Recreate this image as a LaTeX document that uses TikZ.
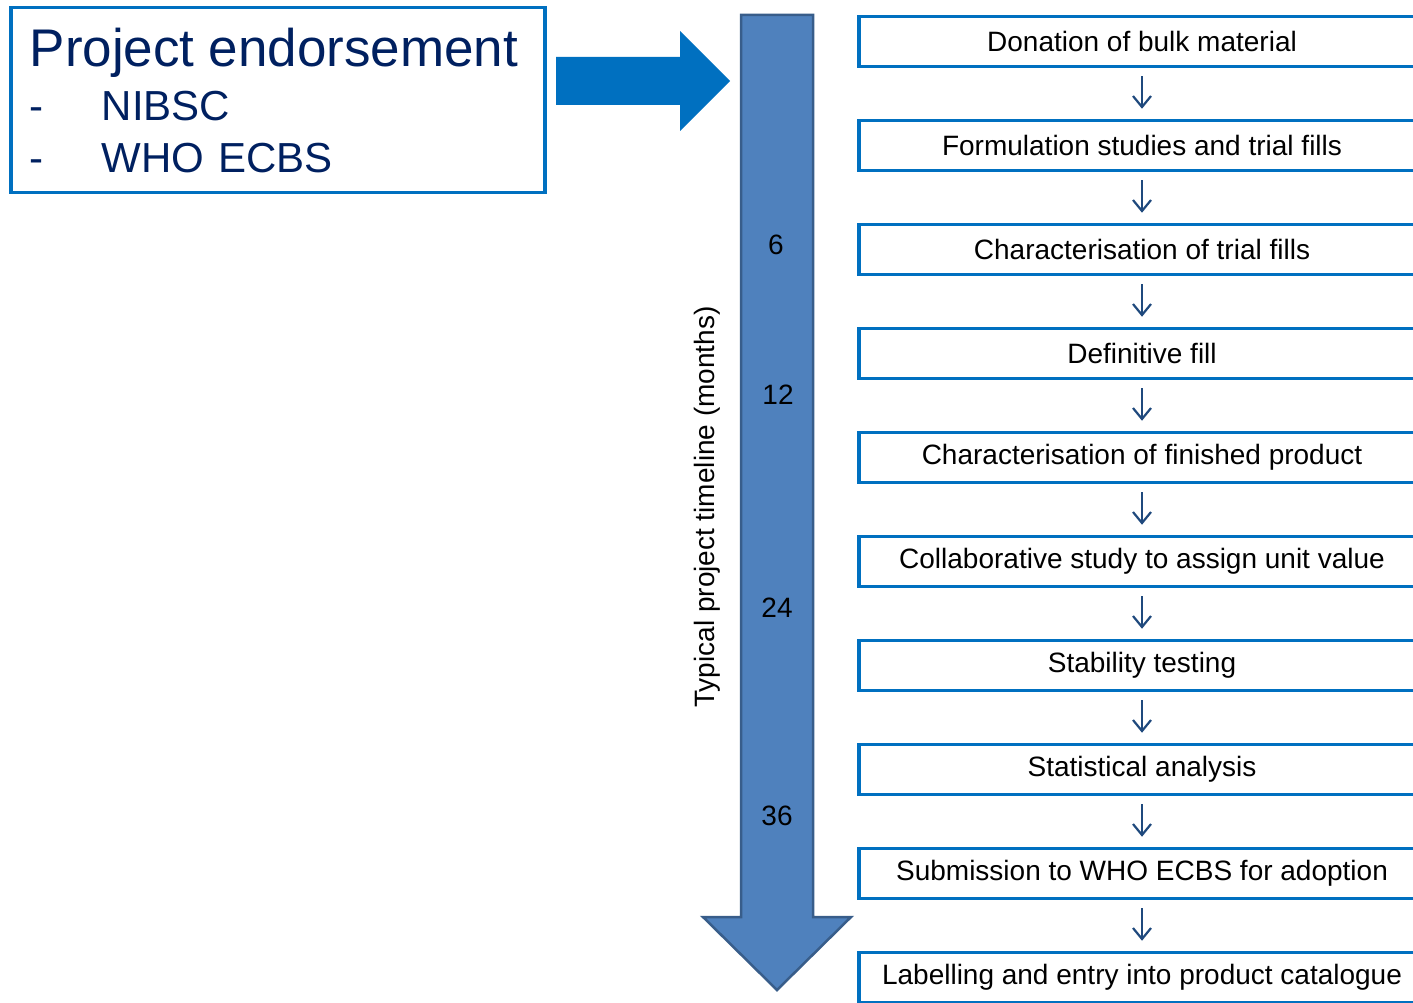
\documentclass[tikz,border=0pt]{standalone}
\usepackage{fontspec}
\setmainfont{Liberation Sans}
\usetikzlibrary{positioning,arrows.meta}

\definecolor{boxblue}{HTML}{0070C0}
\definecolor{timefill}{HTML}{4F81BD}
\definecolor{timeedge}{HTML}{385D8A}
\definecolor{navytext}{HTML}{002060}
\definecolor{arrowdark}{HTML}{1F497D}

\begin{document}
\begin{tikzpicture}[
    x=1pt, y=1pt,
    node distance=50.5pt,
    stepbox/.style={
        draw=boxblue,
        line width=3.5pt,
        fill=white,
        minimum width=566pt,
        minimum height=50pt,
        inner sep=0pt,
        font=\fontsize{28}{32}\selectfont
    },
    steparrow/.style={
        draw=arrowdark,
        line width=2.2pt,
        -{Straight Barb[length=11pt,width=18pt]},
        shorten <=8pt,
        shorten >=10pt
    },
    month/.style={font=\fontsize{28}{32}\selectfont}
]
\useasboundingbox (0,0) rectangle (1413,-1003);

% timeline arrow
\filldraw[fill=timefill, draw=timeedge, line width=2.5pt, line join=miter]
    (741,-15) -- (813,-15) -- (813,-917) -- (851,-917) -- (777,-990)
    -- (703,-917) -- (741,-917) -- cycle;
\node[rotate=90, font=\fontsize{28}{30}\selectfont] (timeaxis) at (707,-507) {Typical project timeline (months)};
\node[month] (m6) at (776,-245) {6};
\node[month] (m12) at (778,-395) {12};
\node[month] (m24) at (777,-608) {24};
\node[month] (m36) at (777,-816) {36};

% endorsement
\node[
    draw=boxblue,
    line width=3.5pt,
    anchor=north west,
    minimum width=534pt,
    minimum height=185pt,
    text width=496pt,
    inner xsep=19pt,
    align=left,
    text=navytext,
    font=\fontsize{42}{52}\selectfont
] (endorse) at (9,-6) {
{\fontsize{53}{60}\selectfont Project endorsement}\\[2pt]
\makebox[72pt][l]{-}NIBSC\\
\makebox[72pt][l]{-}WHO ECBS
};
\fill[boxblue] (556,-57) -- (680,-57) -- (680,-31) -- (730,-81) -- (680,-131)
    -- (680,-105) -- (556,-105) -- cycle;

% steps
\node[stepbox] (donation) at (1142,-41.5) {Donation of bulk material};
\node[stepbox, below=of donation] (formulation) {Formulation studies and trial fills};
\node[stepbox, below=of formulation] (trialchar) {Characterisation of trial fills};
\node[stepbox, below=of trialchar] (definitive) {Definitive fill};
\node[stepbox, below=of definitive] (productchar) {Characterisation of finished product};
\node[stepbox, below=of productchar] (collab) {Collaborative study to assign unit value};
\node[stepbox, below=of collab] (stability) {Stability testing};
\node[stepbox, below=of stability] (statistics) {Statistical analysis};
\node[stepbox, below=of statistics] (submission) {Submission to WHO ECBS for adoption};
\node[stepbox, below=of submission] (labelling) {Labelling and entry into product catalogue};

\foreach \a/\b in {donation/formulation, formulation/trialchar, trialchar/definitive,
    definitive/productchar, productchar/collab, collab/stability, stability/statistics,
    statistics/submission, submission/labelling}
    \draw[steparrow] (\a) -- (\b);
\end{tikzpicture}
\end{document}
